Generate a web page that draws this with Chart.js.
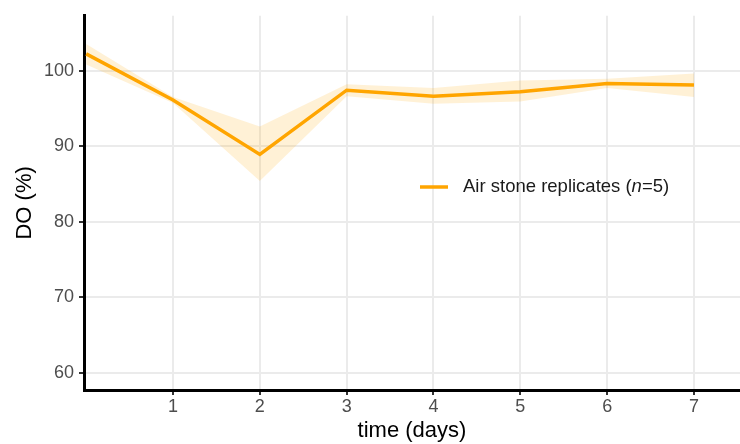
<!DOCTYPE html>
<html>
<head>
<meta charset="utf-8">
<script src="https://cdn.jsdelivr.net/npm/chart.js@4.4.1/dist/chart.umd.min.js"></script>
<style>
  html, body { margin: 0; padding: 0; background: #ffffff; }
  #wrap { width: 740px; height: 444px; position: relative; }
</style>
</head>
<body>
<div id="wrap"><canvas id="c" width="740" height="444"></canvas></div>
<script>
const days = [0, 1, 2, 3, 4, 5, 6, 7];
const meanDO = [102.2, 96.1, 88.9, 97.4, 96.6, 97.2, 98.3, 98.1];
const upperDO = [103.5, 96.5, 92.6, 98.2, 97.7, 98.7, 98.9, 99.6];
const lowerDO = [100.8, 95.7, 85.4, 96.6, 95.6, 95.9, 97.7, 96.5];
const xTickValues = [1, 2, 3, 4, 5, 6, 7];
const yTickValues = [60, 70, 80, 90, 100];
const legendLabelPre = 'Air stone replicates (';
const legendLabelItalic = 'n';
const legendLabelPost = '=5)';

const FONT = "'Liberation Sans', Arial, sans-serif";
const ORANGE = '#FFA500';

const toXY = (arr) => days.map((d, i) => ({ x: d, y: arr[i] }));

const legendPlugin = {
  id: 'customLegend',
  afterDraw(chart) {
    const ctx = chart.ctx;
    const y = 187;
    ctx.save();
    ctx.strokeStyle = ORANGE;
    ctx.lineWidth = 3.5;
    ctx.beginPath();
    ctx.moveTo(420, y);
    ctx.lineTo(448, y);
    ctx.stroke();
    ctx.fillStyle = '#1a1a1a';
    ctx.textBaseline = 'middle';
    ctx.textAlign = 'left';
    let x = 463;
    ctx.font = '18.5px ' + FONT;
    ctx.fillText(legendLabelPre, x, y);
    x += ctx.measureText(legendLabelPre).width;
    ctx.font = 'italic 18.5px ' + FONT;
    ctx.fillText(legendLabelItalic, x, y);
    x += ctx.measureText(legendLabelItalic).width;
    ctx.font = '18.5px ' + FONT;
    ctx.fillText(legendLabelPost, x, y);
    ctx.restore();
  }
};

new Chart(document.getElementById('c'), {
  type: 'line',
  data: {
    datasets: [
      {
        label: 'mean',
        data: toXY(meanDO),
        borderColor: ORANGE,
        borderWidth: 3.5,
        pointRadius: 0,
        fill: false,
        tension: 0
      },
      {
        label: 'upper',
        data: toXY(upperDO),
        borderWidth: 0,
        borderColor: 'rgba(0,0,0,0)',
        backgroundColor: 'rgba(255,165,0,0.16)',
        pointRadius: 0,
        fill: '+1',
        tension: 0
      },
      {
        label: 'lower',
        data: toXY(lowerDO),
        borderWidth: 0,
        borderColor: 'rgba(0,0,0,0)',
        pointRadius: 0,
        fill: false,
        tension: 0
      }
    ]
  },
  options: {
    responsive: false,
    animation: false,
    layout: { padding: { top: 14, right: 0, left: 0, bottom: 0 } },
    plugins: {
      legend: { display: false },
      tooltip: { enabled: false },
      title: { display: false }
    },
    scales: {
      x: {
        type: 'linear',
        min: -0.025,
        max: 7.53,
        afterBuildTicks: (s) => { s.ticks = xTickValues.map(v => ({ value: v })); },
        afterFit: (s) => { s.height = 54; },
        ticks: {
          color: '#4d4d4d',
          font: { family: FONT, size: 18 },
          padding: 1,
          maxRotation: 0,
          autoSkip: false
        },
        grid: {
          color: '#ebebeb',
          lineWidth: 2,
          tickColor: '#333333',
          tickLength: 5,
          drawTicks: true
        },
        border: { display: true, color: '#000000', width: 3 },
        title: {
          display: true,
          text: 'time (days)',
          color: '#000000',
          font: { family: FONT, size: 22, lineHeight: 1.1 },
          padding: { top: 0, bottom: 1 }
        }
      },
      y: {
        type: 'linear',
        min: 57.76,
        max: 107.24,
        afterBuildTicks: (s) => { s.ticks = yTickValues.map(v => ({ value: v })); },
        afterFit: (s) => { s.width = 84; },
        ticks: {
          color: '#4d4d4d',
          font: { family: FONT, size: 18 },
          padding: 5
        },
        grid: {
          color: '#ebebeb',
          lineWidth: 2,
          tickColor: '#333333',
          tickLength: 5,
          drawTicks: true
        },
        border: { display: true, color: '#000000', width: 3 },
        title: {
          display: true,
          text: 'DO (%)',
          color: '#000000',
          font: { family: FONT, size: 22, lineHeight: 1.2 },
          padding: { top: 12, bottom: 0 }
        }
      }
    }
  },
  plugins: [legendPlugin]
});
</script>
</body>
</html>
